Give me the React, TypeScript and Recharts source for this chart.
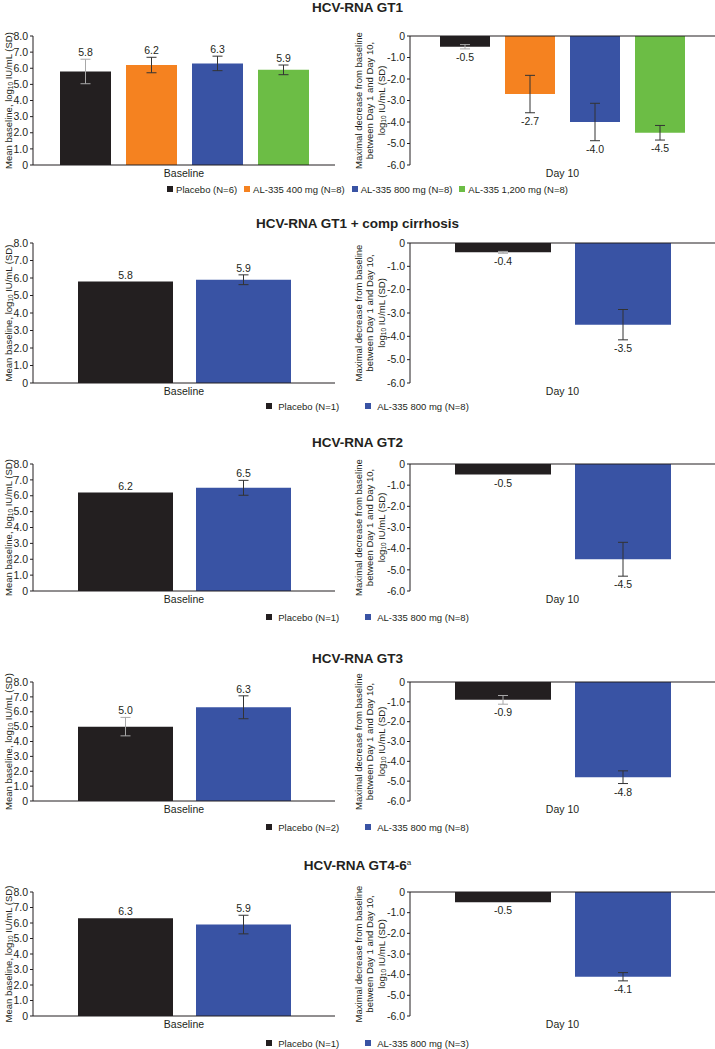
import React from 'react';
import { BarChart, Bar, XAxis, YAxis, ErrorBar, LabelList, ReferenceLine } from 'recharts';

const INK = '#231f20';

const COLORS: Record<string, string> = {
  'Placebo': '#231f20',
  'AL-335 400 mg': '#f58220',
  'AL-335 800 mg': '#3953a4',
  'AL-335 1,200 mg': '#6cbd45',
};

const baselineTicks = [0, 1, 2, 3, 4, 5, 6, 7, 8];
const day10Ticks = [-6, -5, -4, -3, -2, -1, 0];

// GT1
const gt1Groups = ['Placebo', 'AL-335 400 mg', 'AL-335 800 mg', 'AL-335 1,200 mg'];
const gt1N = [6, 8, 8, 8];
const gt1Baseline = [5.8, 6.2, 6.3, 5.9];
const gt1BaselineSd = [0.76, 0.48, 0.45, 0.3];
const gt1Day10 = [-0.5, -2.7, -4.0, -4.5];
const gt1Day10Sd = [0.1, 0.87, 0.87, 0.34];

// GT1 + compensated cirrhosis
const gt1cGroups = ['Placebo', 'AL-335 800 mg'];
const gt1cN = [1, 8];
const gt1cBaseline = [5.8, 5.9];
const gt1cBaselineSd = [0, 0.28];
const gt1cDay10 = [-0.4, -3.5];
const gt1cDay10Sd = [0.04, 0.65];

// GT2
const gt2Groups = ['Placebo', 'AL-335 800 mg'];
const gt2N = [1, 8];
const gt2Baseline = [6.2, 6.5];
const gt2BaselineSd = [0, 0.47];
const gt2Day10 = [-0.5, -4.5];
const gt2Day10Sd = [0, 0.8];

// GT3
const gt3Groups = ['Placebo', 'AL-335 800 mg'];
const gt3N = [2, 8];
const gt3Baseline = [5.0, 6.3];
const gt3BaselineSd = [0.62, 0.77];
const gt3Day10 = [-0.9, -4.8];
const gt3Day10Sd = [0.22, 0.32];

// GT4-6
const gt46Groups = ['Placebo', 'AL-335 800 mg'];
const gt46N = [1, 3];
const gt46Baseline = [6.3, 5.9];
const gt46BaselineSd = [0, 0.6];
const gt46Day10 = [-0.5, -4.1];
const gt46Day10Sd = [0, 0.2];

const fmt = (v: number) => (v === 0 ? '0' : v.toFixed(1));

function barBox(p: any) {
  const vb = p.viewBox && p.viewBox.width !== undefined ? p.viewBox : p;
  const x = Number(vb.x ?? p.x);
  const y = Number(vb.y ?? p.y);
  const w = Number(vb.width ?? p.width);
  const h = Number(vb.height ?? p.height);
  return { x, y, w, h, top: Math.min(y, y + h), bottom: Math.max(y, y + h) };
}

const TopLabel = (p: any) => {
  const { x, w, h, top } = barBox(p);
  const ppu = Math.abs(h) / Math.abs(p.val);
  const yErr = top - p.err * ppu;
  return (
    <text x={x + w / 2} y={yErr - 3} textAnchor="middle" fontSize={10.5} fill={INK}>
      {fmt(p.val)}
    </text>
  );
};

const BottomLabel = (p: any) => {
  const { x, w, h, bottom } = barBox(p);
  const ppu = Math.abs(h) / Math.abs(p.val);
  const yErr = bottom + p.err * ppu;
  return (
    <text x={x + w / 2} y={yErr + 12} textAnchor="middle" fontSize={10.5} fill={INK}>
      {fmt(p.val)}
    </text>
  );
};

interface Layout {
  titleY: number;
  plotTop: number;
  plotBottom: number;
  legendY: number;
}

interface PanelProps {
  title: string;
  sup?: string;
  groups: string[];
  n: number[];
  baseline: number[];
  baselineSd: number[];
  day10: number[];
  day10Sd: number[];
  layout: Layout;
}

const Panel = ({ title, sup, groups, n, baseline, baselineSd, day10, day10Sd, layout }: PanelProps) => {
  const leftRow: any = { name: 'Baseline' };
  const rightRow: any = { name: 'Day 10' };
  groups.forEach((_, i) => {
    leftRow[`g${i}`] = baseline[i];
    leftRow[`e${i}`] = baselineSd[i];
    rightRow[`g${i}`] = day10[i];
    rightRow[`e${i}`] = day10Sd[i];
  });
  const many = groups.length > 2;
  const plotH = layout.plotBottom - layout.plotTop;
  const mTop = 5;
  const chartH = plotH + mTop + 20;
  const pad = 30;
  const labelH = plotH + pad * 2;
  const midY = labelH / 2;

  return (
    <>
      <div
        style={{
          position: 'absolute', top: layout.titleY - 8, left: 0, width: 715, textAlign: 'center',
          fontSize: 13.5, fontWeight: 'bold', lineHeight: '16px', color: INK,
        }}
      >
        {title}
        {sup && <sup style={{ fontSize: 8, fontWeight: 'normal', verticalAlign: 'top', lineHeight: '10px' }}>{sup}</sup>}
      </div>

      {/* left y label */}
      <svg style={{ position: 'absolute', left: 0, top: layout.plotTop - pad, overflow: 'visible' }} width={16} height={labelH}>
        <text
          x={8} y={midY} transform={`rotate(-90, 8, ${midY})`} textAnchor="middle"
          dominantBaseline="central" fontSize={9.5} fill={INK}
        >
          Mean baseline, log<tspan fontSize={6.5} dy={2}>10</tspan>
          <tspan dy={-2}> IU/mL (SD)</tspan>
        </text>
      </svg>

      <div style={{ position: 'absolute', left: 0, top: layout.plotTop - mTop }}>
        <BarChart
          width={345} height={chartH} data={[leftRow]}
          margin={{ top: mTop, right: 10, left: 0, bottom: 0 }}
          barSize={many ? 51 : 95} barGap={many ? 15 : 23}
        >
          <XAxis
            dataKey="name" height={20} tickLine={false} tickSize={3}
            axisLine={{ stroke: INK }} tick={{ fontSize: 10.5, fill: INK }}
          />
          <YAxis
            width={33} domain={[0, 8]} ticks={baselineTicks} tickFormatter={fmt} interval={0}
            tickSize={3} tickMargin={2} axisLine={{ stroke: INK }} tickLine={{ stroke: INK }}
            tick={{ fontSize: 10.5, fill: INK }}
          />
          {groups.map((g, i) => (
            <Bar key={g} dataKey={`g${i}`} fill={COLORS[g]} isAnimationActive={false}>
              <ErrorBar dataKey={`e${i}`} width={5} strokeWidth={1} stroke={g === 'Placebo' ? '#a8a8a8' : '#333'} />
              <LabelList dataKey={`g${i}`} content={(p: any) => <TopLabel {...p} val={baseline[i]} err={baselineSd[i]} />} />
            </Bar>
          ))}
        </BarChart>
      </div>

      {/* right y label */}
      <svg style={{ position: 'absolute', left: 352, top: layout.plotTop - pad, overflow: 'visible' }} width={40} height={labelH}>
        {[
          <>Maximal decrease from baseline</>,
          <>between Day 1 and Day 10,</>,
          <>log<tspan fontSize={6.5} dy={2}>10</tspan><tspan dy={-2}> IU/mL (SD)</tspan></>,
        ].map((line, k) => {
          const cx = 6 + k * 11.5;
          return (
            <text
              key={k} x={cx} y={midY} transform={`rotate(-90, ${cx}, ${midY})`} textAnchor="middle"
              dominantBaseline="central" fontSize={9.5} fill={INK}
            >
              {line}
            </text>
          );
        })}
      </svg>

      <div style={{ position: 'absolute', left: 355, top: layout.plotTop - mTop }}>
        <BarChart
          width={360} height={chartH} data={[rightRow]}
          margin={{ top: mTop, right: 0, left: 0, bottom: 0 }}
          barSize={many ? 50 : 96} barGap={many ? 15 : 24}
        >
          <XAxis
            dataKey="name" height={20} tickLine={false} tickSize={3}
            axisLine={false} tick={{ fontSize: 10.5, fill: INK }}
          />
          <YAxis
            width={55} domain={[-6, 0]} ticks={day10Ticks} tickFormatter={fmt} interval={0}
            tickSize={3} tickMargin={2} axisLine={{ stroke: INK }} tickLine={{ stroke: INK }}
            tick={{ fontSize: 10.5, fill: INK }}
          />
          {groups.map((g, i) => (
            <Bar key={g} dataKey={`g${i}`} fill={COLORS[g]} isAnimationActive={false}>
              <ErrorBar dataKey={`e${i}`} width={5} strokeWidth={1} stroke={g === 'Placebo' ? '#a8a8a8' : '#333'} />
              <LabelList dataKey={`g${i}`} content={(p: any) => <BottomLabel {...p} val={day10[i]} err={day10Sd[i]} />} />
            </Bar>
          ))}
          <ReferenceLine y={0} stroke={INK} strokeWidth={1} ifOverflow="extendDomain" />
        </BarChart>
      </div>

      {/* legend */}
      <div
        style={{
          position: 'absolute', left: 10, top: layout.legendY - 7, width: 715, height: 14,
          display: 'flex', justifyContent: 'center', alignItems: 'center', gap: many ? 7 : 26,
          fontSize: 9.5, color: INK, whiteSpace: 'nowrap',
        }}
      >
        {groups.map((g, i) => (
          <div key={g} style={{ display: 'flex', alignItems: 'center' }}>
            <span style={{ display: 'inline-block', width: 6, height: 6, background: COLORS[g], marginRight: many ? 3 : 6 }} />
            <span>{`${g} (N=${n[i]})`}</span>
          </div>
        ))}
      </div>
    </>
  );
};

export default function App() {
  return (
    <div
      style={{
        position: 'absolute', left: 0, top: 0, width: 715, height: 1049, background: '#fff',
        fontFamily: '"Liberation Sans", Arial, Helvetica, sans-serif', overflow: 'hidden',
      }}
    >
      <Panel
        title="HCV-RNA GT1" groups={gt1Groups} n={gt1N}
        baseline={gt1Baseline} baselineSd={gt1BaselineSd} day10={gt1Day10} day10Sd={gt1Day10Sd}
        layout={{ titleY: 8, plotTop: 36, plotBottom: 165, legendY: 189 }}
      />
      <Panel
        title="HCV-RNA GT1 + comp cirrhosis" groups={gt1cGroups} n={gt1cN}
        baseline={gt1cBaseline} baselineSd={gt1cBaselineSd} day10={gt1cDay10} day10Sd={gt1cDay10Sd}
        layout={{ titleY: 224, plotTop: 243, plotBottom: 383, legendY: 406 }}
      />
      <Panel
        title="HCV-RNA GT2" groups={gt2Groups} n={gt2N}
        baseline={gt2Baseline} baselineSd={gt2BaselineSd} day10={gt2Day10} day10Sd={gt2Day10Sd}
        layout={{ titleY: 443, plotTop: 464, plotBottom: 591, legendY: 617 }}
      />
      <Panel
        title="HCV-RNA GT3" groups={gt3Groups} n={gt3N}
        baseline={gt3Baseline} baselineSd={gt3BaselineSd} day10={gt3Day10} day10Sd={gt3Day10Sd}
        layout={{ titleY: 659, plotTop: 682, plotBottom: 801, legendY: 827 }}
      />
      <Panel
        title="HCV-RNA GT4-6" sup="a" groups={gt46Groups} n={gt46N}
        baseline={gt46Baseline} baselineSd={gt46BaselineSd} day10={gt46Day10} day10Sd={gt46Day10Sd}
        layout={{ titleY: 866, plotTop: 892, plotBottom: 1016, legendY: 1043 }}
      />
    </div>
  );
}
